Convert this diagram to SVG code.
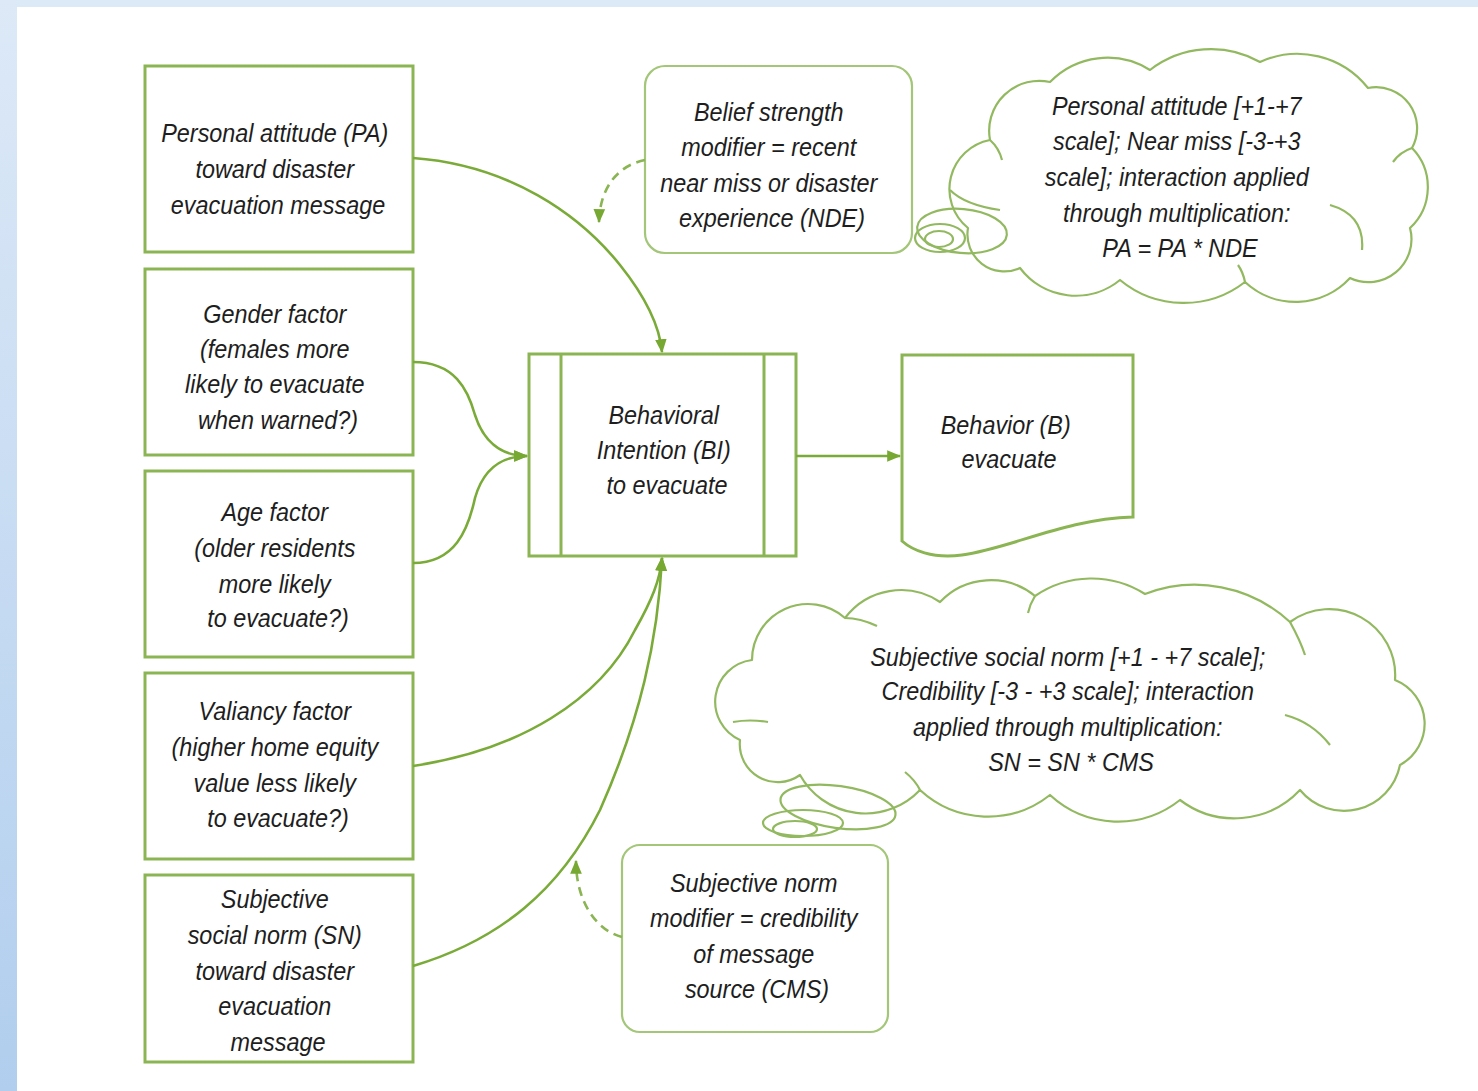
<svg xmlns="http://www.w3.org/2000/svg" width="1478" height="1091" viewBox="0 0 1478 1091">
  <defs>
    <linearGradient id="edgeFade" x1="0" y1="0" x2="0" y2="1">
      <stop offset="0" stop-color="#dde9f7"/>
      <stop offset="1" stop-color="#b1ceee"/>
    </linearGradient>
    <marker id="arrow" viewBox="0 0 12 12" refX="11" refY="6" markerWidth="14" markerHeight="14" markerUnits="userSpaceOnUse" orient="auto">
      <path d="M0,1 L12,6 L0,11 z" fill="#76a832"/>
    </marker>
    <style>
      .box { fill: #ffffff; stroke: #8ab552; stroke-width: 3; }
      .soft { fill: #ffffff; stroke: #a3c679; stroke-width: 2.2; }
      .cloud { fill: #ffffff; stroke: #92b960; stroke-width: 2.2; stroke-linejoin: round; }
      .puff { fill: none; stroke: #92b960; stroke-width: 2.2; }
      .link { fill: none; stroke: #7aab38; stroke-width: 2.6; }
      .dash { fill: none; stroke: #8ab552; stroke-width: 2.6; stroke-dasharray: 9 6; }
      .lbl { font-family: "Liberation Sans", Arial, sans-serif; font-style: italic; font-size: 26px; fill: #1e1e1e; text-anchor: middle; }
    </style>
  </defs>

  <!-- page background with tinted margins -->
  <rect x="0" y="0" width="1478" height="1091" fill="#ffffff"/>
  <rect x="0" y="0" width="1478" height="7" fill="#dce9f6"/>
  <rect x="0" y="0" width="17" height="1091" fill="url(#edgeFade)"/>

  <!-- input factors -->
  <g id="node-pa">
    <rect class="box" x="145" y="66" width="268" height="186"/>
    <text class="lbl" transform="translate(278 0) scale(0.9 1)">
      <tspan x="0" y="142">Personal attitude (PA)</tspan>
      <tspan x="0" y="178">toward disaster</tspan>
      <tspan x="0" y="214">evacuation message</tspan>
    </text>
  </g>
  <g id="node-gender">
    <rect class="box" x="145" y="269" width="268" height="186"/>
    <text class="lbl" transform="translate(278 0) scale(0.9 1)">
      <tspan x="0" y="323">Gender factor</tspan>
      <tspan x="0" y="358">(females more</tspan>
      <tspan x="0" y="393">likely to evacuate</tspan>
      <tspan x="0" y="429">when warned?)</tspan>
    </text>
  </g>
  <g id="node-age">
    <rect class="box" x="145" y="471" width="268" height="186"/>
    <text class="lbl" transform="translate(278 0) scale(0.9 1)">
      <tspan x="0" y="521">Age factor</tspan>
      <tspan x="0" y="557">(older residents</tspan>
      <tspan x="0" y="593">more likely</tspan>
      <tspan x="0" y="627">to evacuate?)</tspan>
    </text>
  </g>
  <g id="node-valiancy">
    <rect class="box" x="145" y="673" width="268" height="186"/>
    <text class="lbl" transform="translate(278 0) scale(0.9 1)">
      <tspan x="0" y="720">Valiancy factor</tspan>
      <tspan x="0" y="756">(higher home equity</tspan>
      <tspan x="0" y="792">value less likely</tspan>
      <tspan x="0" y="827">to evacuate?)</tspan>
    </text>
  </g>
  <g id="node-sn">
    <rect class="box" x="145" y="875" width="268" height="187"/>
    <text class="lbl" transform="translate(278 0) scale(0.9 1)">
      <tspan x="0" y="908">Subjective</tspan>
      <tspan x="0" y="944">social norm (SN)</tspan>
      <tspan x="0" y="980">toward disaster</tspan>
      <tspan x="0" y="1015">evacuation</tspan>
      <tspan x="0" y="1051">message</tspan>
    </text>
  </g>

  <!-- central intention process -->
  <g id="node-bi">
    <rect class="box" x="529" y="354" width="267" height="202"/>
    <line class="box" x1="561" y1="354" x2="561" y2="556"/>
    <line class="box" x1="764" y1="354" x2="764" y2="556"/>
    <text class="lbl" transform="translate(667 0) scale(0.9 1)">
      <tspan x="0" y="424">Behavioral</tspan>
      <tspan x="0" y="459">Intention (BI)</tspan>
      <tspan x="0" y="494">to evacuate</tspan>
    </text>
  </g>

  <!-- outcome document -->
  <g id="node-behavior">
    <path class="box" d="M902,355 H1133 V517 C1065,519 1012,548 962,555 C932,559 912,550 902,541 Z"/>
    <text class="lbl" transform="translate(1009 0) scale(0.9 1)">
      <tspan x="0" y="434">Behavior (B)</tspan>
      <tspan x="0" y="468">evacuate</tspan>
    </text>
  </g>

  <!-- modifiers -->
  <g id="node-nde">
    <rect class="soft" x="645" y="66" width="267" height="187" rx="20" ry="20"/>
    <text class="lbl" transform="translate(772 0) scale(0.9 1)">
      <tspan x="0" y="121">Belief strength</tspan>
      <tspan x="0" y="156">modifier = recent</tspan>
      <tspan x="0" y="192">near miss or disaster</tspan>
      <tspan x="0" y="227">experience (NDE)</tspan>
    </text>
  </g>
  <g id="node-cms">
    <rect class="soft" x="622" y="845" width="266" height="187" rx="18" ry="18"/>
    <text class="lbl" transform="translate(757 0) scale(0.9 1)">
      <tspan x="0" y="892">Subjective norm</tspan>
      <tspan x="0" y="927">modifier = credibility</tspan>
      <tspan x="0" y="963">of message</tspan>
      <tspan x="0" y="998">source (CMS)</tspan>
    </text>
  </g>

  <!-- thought clouds -->
  <g id="note-pa">
    <path class="cloud" d="M968,228 A50,50 0 0 1 990,140 A50,50 0 0 1 1050,82 A80,80 0 0 1 1150,70 A100,100 0 0 1 1260,62 A90,90 0 0 1 1368,88 A41,41 0 0 1 1412,148 A56,56 0 0 1 1410,228 A43,43 0 0 1 1350,278 A74,74 0 0 1 1245,282 A100,100 0 0 1 1120,280 A70,70 0 0 1 1020,268 A37,37 0 0 1 968,228 Z"/>
    <path class="puff" d="M990,140 Q999,148 1002,160 M1412,148 Q1400,152 1393,162 M1330,205 Q1365,215 1362,250 M1245,282 Q1243,272 1238,265 M950,190 Q965,205 1000,210"/>
    <ellipse class="puff" cx="962" cy="231" rx="45" ry="22" transform="rotate(5 962 231)"/>
    <ellipse class="puff" cx="940" cy="238" rx="25" ry="14"/>
    <ellipse class="puff" cx="939" cy="239" rx="14" ry="8"/>
    <text class="lbl" transform="translate(1180 0) scale(0.9 1)">
      <tspan x="0" y="115">Personal attitude [+1-+7</tspan>
      <tspan x="0" y="150">scale]; Near miss [-3-+3</tspan>
      <tspan x="0" y="186">scale]; interaction applied</tspan>
      <tspan x="0" y="222">through multiplication:</tspan>
      <tspan x="0" y="257">PA = PA * NDE</tspan>
    </text>
  </g>
  <g id="note-sn">
    <path class="cloud" d="M740,740 A42,42 0 0 1 752,660 A56,56 0 0 1 845,618 A70,70 0 0 1 940,602 A70,70 0 0 1 1035,596 A100,100 0 0 1 1145,594 A140,140 0 0 1 1290,622 A66,66 0 0 1 1395,680 A47,47 0 0 1 1400,765 A57,57 0 0 1 1300,790 A90,90 0 0 1 1180,800 A100,100 0 0 1 1050,795 A100,100 0 0 1 920,790 A75,75 0 0 1 800,775 A38,38 0 0 1 740,740 Z"/>
    <path class="puff" d="M845,618 Q860,618 877,626 M1035,596 Q1030,604 1028,613 M1290,622 Q1300,640 1305,655 M1285,715 Q1312,722 1330,745 M733,722 Q750,719 768,722 M920,790 Q915,780 905,772"/>
    <ellipse class="puff" cx="838" cy="807" rx="58" ry="21" transform="rotate(8 838 807)"/>
    <ellipse class="puff" cx="803" cy="823" rx="40" ry="13"/>
    <ellipse class="puff" cx="795" cy="829" rx="22" ry="8"/>
    <text class="lbl" transform="translate(1071 0) scale(0.9 1)">
      <tspan x="0" y="666">Subjective social norm [+1 - +7 scale];</tspan>
      <tspan x="0" y="700">Credibility [-3 - +3 scale]; interaction</tspan>
      <tspan x="0" y="736">applied through multiplication:</tspan>
      <tspan x="0" y="771">SN = SN * CMS</tspan>
    </text>
  </g>

  <!-- connectors -->
  <g id="connectors">
    <path class="link" marker-end="url(#arrow)" d="M413,158 C510,165 580,215 620,265 C648,300 660,330 662,352"/>
    <path class="link" marker-end="url(#arrow)" d="M413,362 C455,362 468,390 475,415 C483,440 500,456 527,456"/>
    <path class="link" marker-end="url(#arrow)" d="M413,563 C455,563 468,530 475,498 C483,470 500,456 527,456"/>
    <path class="link" marker-end="url(#arrow)" d="M413,766 C520,750 600,700 635,630 C652,600 660,580 662,558"/>
    <path class="link" marker-end="url(#arrow)" d="M413,966 C500,940 560,890 600,810 C640,720 658,640 662,558"/>
    <path class="link" marker-end="url(#arrow)" d="M796,456 H900"/>
    <path class="dash" marker-end="url(#arrow)" d="M645,160 C620,165 600,185 599,222"/>
    <path class="dash" marker-end="url(#arrow)" d="M622,937 C595,930 576,900 576,861"/>
  </g>
</svg>
